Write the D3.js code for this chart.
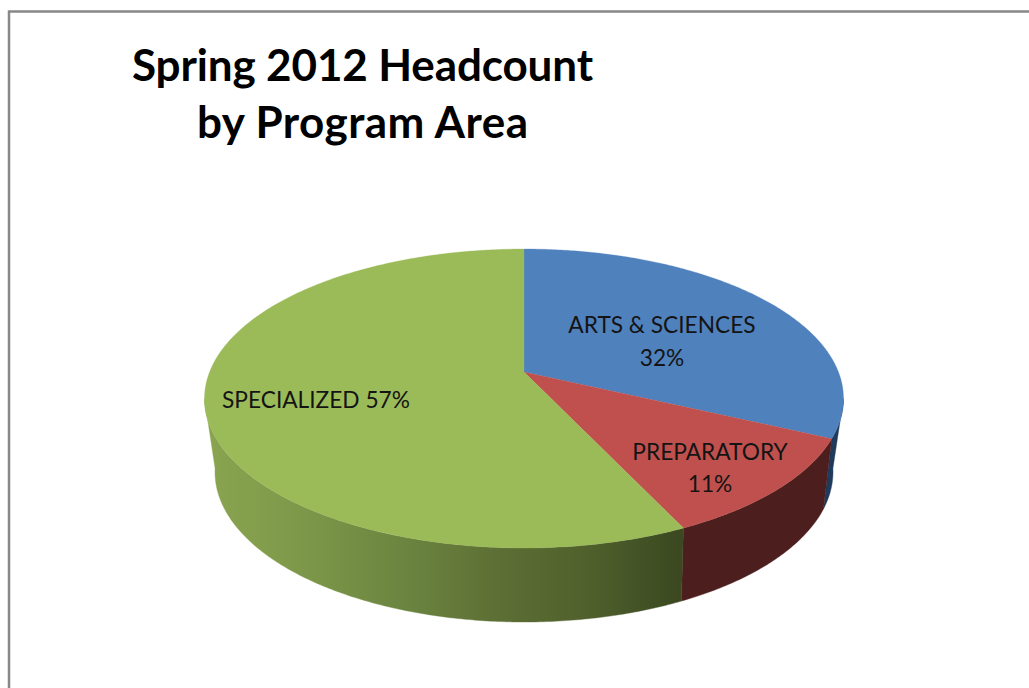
<!DOCTYPE html>
<html>
<head>
<meta charset="utf-8">
<script src="https://cdn.jsdelivr.net/npm/d3@7"></script>
<style>
html,body{margin:0;padding:0;background:#fff;overflow:hidden}
svg{display:block}
</style>
</head>
<body>
<svg id="c" width="1029" height="688"></svg>
<script>
const categories = ["ARTS & SCIENCES", "PREPARATORY", "SPECIALIZED"];
const values = [32, 11, 57];
const titleLines = ["Spring 2012 Headcount", "by Program Area"];

const topColors = ["#4f81bd", "#c0504d", "#9bbb59"];
const sideColors = ["#1f3a5c", "#4c1f1e", "url(#greenSide)"];

const svg = d3.select("#c");
const topDisk = {cx: 524, cy: 398.5, rx: 319.5, ry: 149.5, k: 0.177};
const baseDisk = {cx: 524, cy: 472, rx: 309, ry: 150, k: 0.2};

// Perspective projection of a point on the pie's rim (or centre) onto the screen ellipse.
function project(d, a, r) {
  const u = r * Math.sin(a), v = r * Math.cos(a);
  const den = 1 + d.k * v;
  return [d.cx + d.rx * u * Math.sqrt(1 - d.k * d.k) / den,
          d.cy - d.ry * (v + d.k) / den];
}
const line = d3.line();
const arcAngles = (a0, a1) => {
  const n = Math.max(2, Math.ceil(Math.abs(a1 - a0) / 0.01));
  return d3.range(n + 1).map(i => a0 + (a1 - a0) * i / n);
};

const arcs = d3.pie().sort(null).value(d => d)(values);

// gradient for the green wall
const defs = svg.append("defs");
const grad = defs.append("linearGradient").attr("id", "greenSide")
  .attr("gradientUnits", "userSpaceOnUse")
  .attr("x1", 205).attr("x2", 685).attr("y1", 0).attr("y2", 0);
[[0, "#8aa550"], [0.2, "#7d9849"], [0.42, "#6b8440"], [0.6, "#5e7035"], [0.8, "#4f602c"], [1, "#3a4720"]]
  .forEach(([o, c]) => grad.append("stop").attr("offset", o).attr("stop-color", c));

// frame
svg.append("path")
  .attr("d", "M9,700V11.5H1040")
  .attr("fill", "none").attr("stroke", "#888888").attr("stroke-width", 2.5);

// walls: only the part of the rim facing the viewer
const frontStart = Math.acos(-topDisk.k), frontEnd = 2 * Math.PI - frontStart;
const wallG = svg.append("g");
arcs.forEach((s, i) => {
  const a0 = Math.max(s.startAngle, frontStart), a1 = Math.min(s.endAngle, frontEnd);
  if (a1 <= a0) return;
  const angs = arcAngles(a0, a1);
  const pts = angs.map(a => project(topDisk, a, 1))
    .concat(angs.slice().reverse().map(a => project(baseDisk, a, 1)));
  wallG.append("path").attr("d", line(pts) + "Z")
    .attr("fill", sideColors[i]).attr("stroke", sideColors[i]).attr("stroke-width", 0.4);
});

// top faces
const topG = svg.append("g");
arcs.forEach((s, i) => {
  const pts = [project(topDisk, 0, 0)].concat(arcAngles(s.startAngle, s.endAngle).map(a => project(topDisk, a, 1)));
  topG.append("path").attr("d", line(pts) + "Z")
    .attr("fill", topColors[i]).attr("stroke", topColors[i]).attr("stroke-width", 0.3);
});

// title
const titleWidths = [461, 331];
const title = svg.append("text").attr("font-family", "Lato, sans-serif").attr("font-weight", 700)
  .attr("font-size", 44).attr("fill", "#000").attr("text-anchor", "middle");
titleLines.forEach((t, i) => title.append("tspan").attr("x", 362.5).attr("y", 81 + i * 57)
  .attr("textLength", titleWidths[i]).attr("lengthAdjust", "spacing").text(t));

// data labels
const labelPos = [[662, 333, 33], [710, 460, 32], [316, 408, 0]];
const labelG = svg.append("g").attr("font-family", "Lato, sans-serif").attr("font-size", 22.7)
  .attr("fill", "#141414").attr("text-anchor", "middle");
categories.forEach((c, i) => {
  const [x, y, gap] = labelPos[i];
  const pct = values[i] + "%";
  if (gap) {
    labelG.append("text").attr("x", x).attr("y", y).text(c);
    labelG.append("text").attr("x", x).attr("y", y + gap).text(pct);
  } else {
    labelG.append("text").attr("x", x).attr("y", y).text(c + " " + pct);
  }
});
</script>
</body>
</html>
